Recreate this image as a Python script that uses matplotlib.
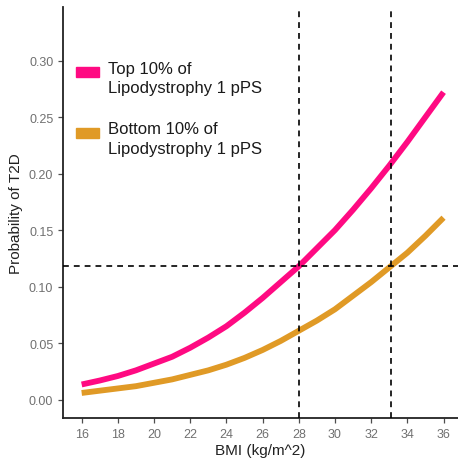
import numpy as np
import matplotlib.pyplot as plt
from matplotlib.patches import Rectangle

bmi = [16, 17, 18, 19, 20, 21, 22, 23, 24, 25, 26, 27, 28, 29, 30, 31, 32, 33, 34, 35, 36]
p_top = [0.0135, 0.017, 0.021, 0.026, 0.032, 0.038, 0.046, 0.055, 0.065, 0.077, 0.090,
         0.104, 0.118, 0.134, 0.150, 0.168, 0.187, 0.207, 0.228, 0.250, 0.272]
p_bottom = [0.006, 0.008, 0.010, 0.012, 0.015, 0.018, 0.022, 0.026, 0.031, 0.037, 0.044,
            0.052, 0.061, 0.070, 0.080, 0.092, 0.104, 0.117, 0.130, 0.145, 0.161]
labels = ['Top 10% of\nLipodystrophy 1 pPS', 'Bottom 10% of\nLipodystrophy 1 pPS']
colors = ['#FF0A82', '#E09A26']
vlines = [28, 33.1]
hline = 0.118

plt.rcParams['font.family'] = ['Liberation Sans', 'DejaVu Sans']

fig = plt.figure(figsize=(4.58, 4.60), dpi=100)
ax = fig.add_axes([0.1376, 0.089, 0.8624, 0.894])

ax.plot(bmi, p_top, color=colors[0], lw=4.2, solid_capstyle='butt', zorder=2)
ax.plot(bmi, p_bottom, color=colors[1], lw=4.2, solid_capstyle='butt', zorder=2)

for v in vlines:
    ax.axvline(v, color='black', lw=1.2, dashes=(3.5, 3), zorder=3)
ax.axhline(hline, color='black', lw=1.2, dashes=(3.5, 3), zorder=3)

ax.set_xlim(14.97, 36.8)
ax.set_ylim(-0.0162, 0.3475)
ax.set_xticks(np.arange(16, 37, 2))
ax.set_yticks([0.0, 0.05, 0.10, 0.15, 0.20, 0.25, 0.30])
ax.set_yticklabels(['0.00', '0.05', '0.10', '0.15', '0.20', '0.25', '0.30'])
ax.tick_params(colors='#4D4D4D', labelcolor='#707070', labelsize=9, length=3.5, width=0.9)

for s in ['top', 'right']:
    ax.spines[s].set_visible(False)
for s in ['left', 'bottom']:
    ax.spines[s].set_color('#222222')
    ax.spines[s].set_linewidth(1.3)

ax.set_xlabel('BMI (kg/m^2)', fontsize=11, color='#222222', labelpad=2)
ax.set_ylabel('Probability of T2D', fontsize=11, color='#222222', labelpad=4)

# legend drawn by hand (key sits level with first text line, like ggplot)
key_y = [0.842, 0.693]
text_y = [0.827, 0.680]
for c, lab, ky, ty in zip(colors, labels, key_y, text_y):
    ax.add_patch(Rectangle((0.033, ky - 0.012), 0.058, 0.024, color=c,
                           transform=ax.transAxes, clip_on=False, zorder=4))
    ax.text(0.114, ty, lab, transform=ax.transAxes, fontsize=12, color='#1a1a1a',
            va='center', ha='left', linespacing=1.4)

fig.savefig('out.png', dpi=100)
